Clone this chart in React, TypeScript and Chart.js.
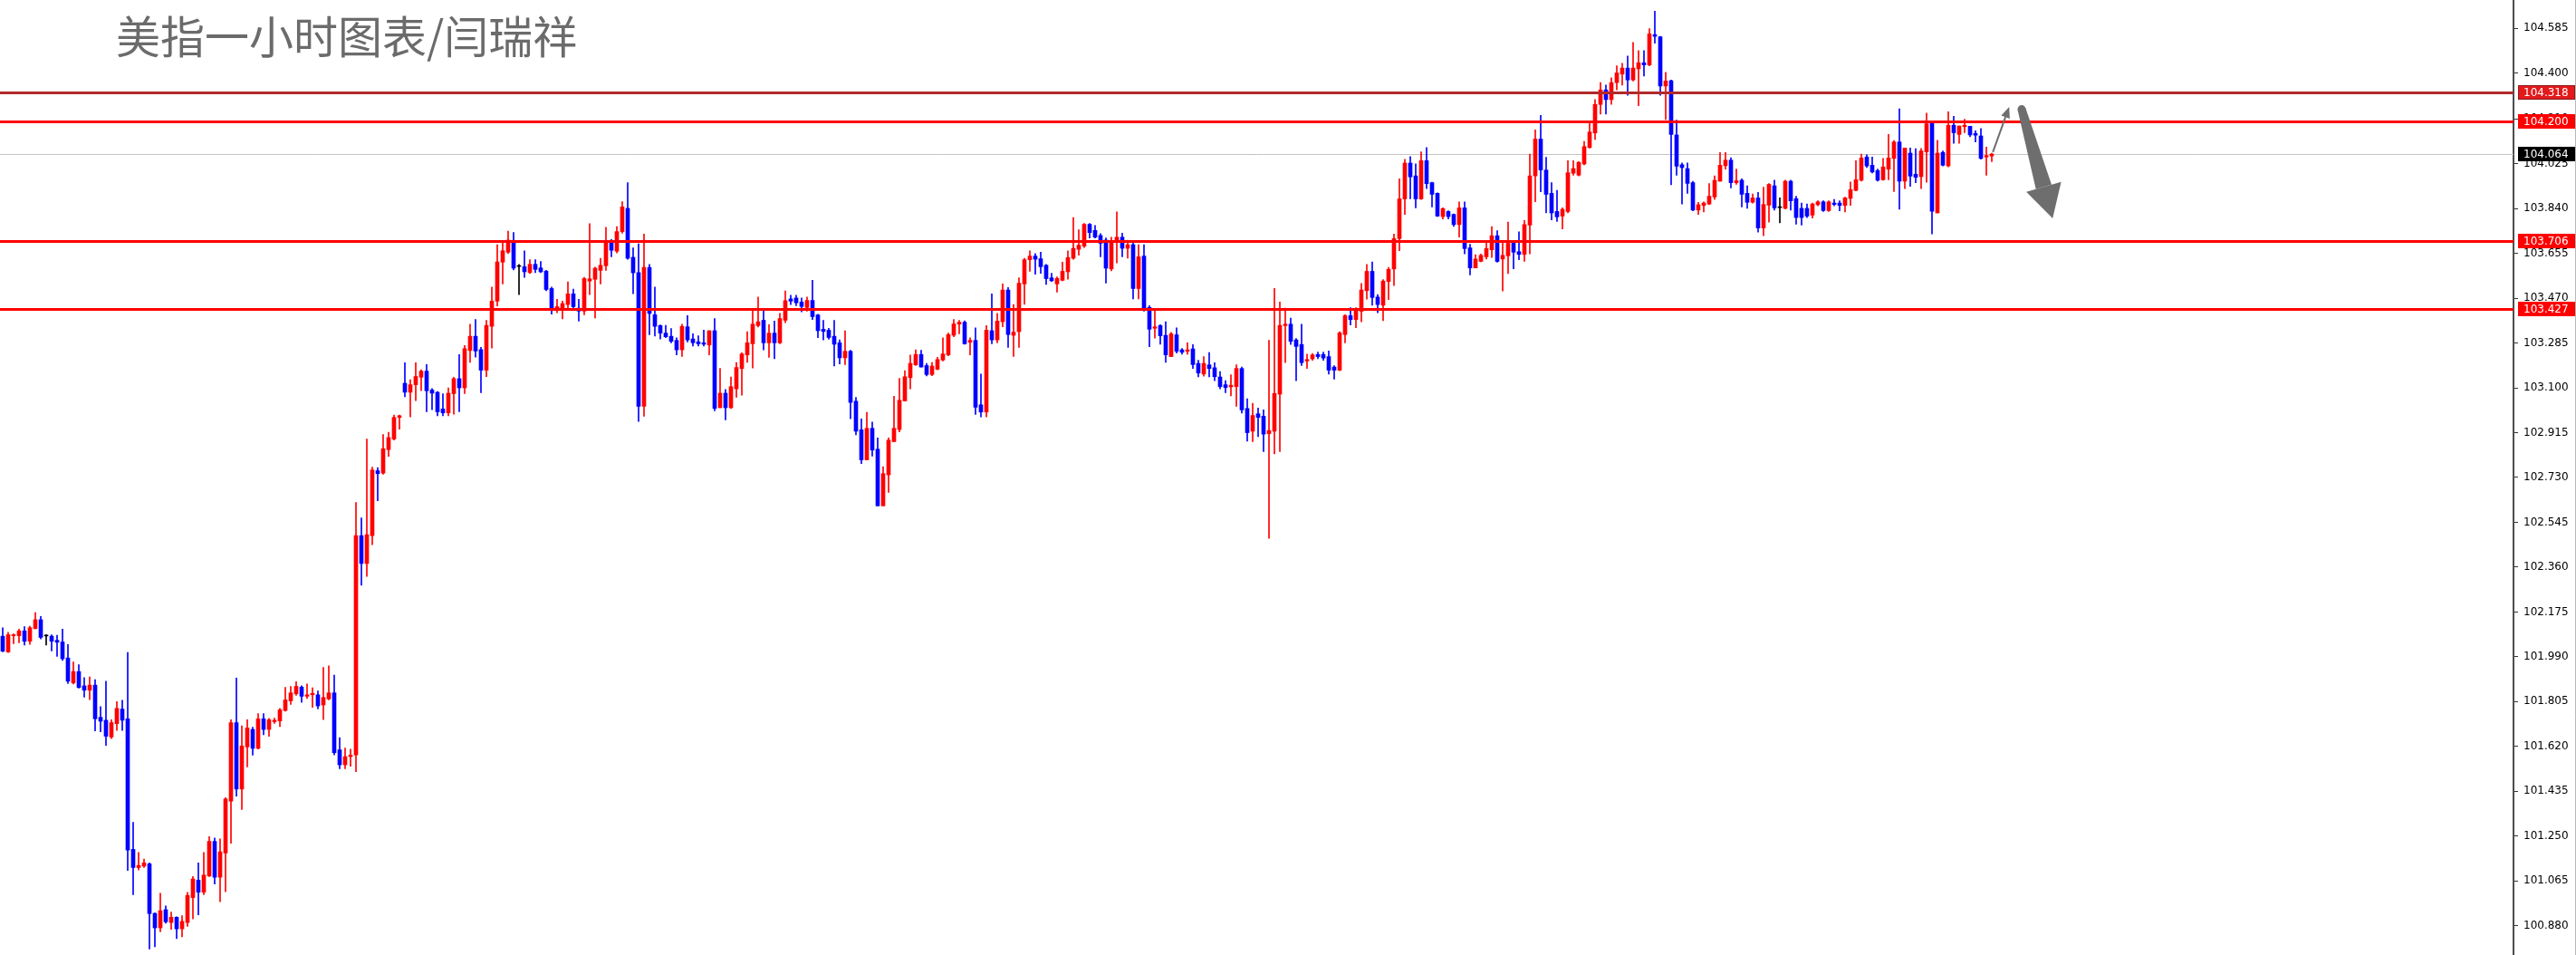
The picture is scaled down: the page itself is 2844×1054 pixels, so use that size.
import React, { useEffect, useRef } from "react";
import { Chart, registerables } from "chart.js";

Chart.register(...registerables);

const titleText = "美指一小时图表/闫瑞祥";

const opens = [
  102.075,102.010,102.077,102.077,102.097,102.054,102.106,102.143,102.076,102.075,
  102.058,102.051,101.985,101.882,101.929,101.870,101.852,101.873,101.740,101.728,
  101.659,101.714,101.774,101.734,101.195,101.120,101.126,101.135,100.931,100.871,
  100.946,100.893,100.915,100.867,100.893,100.996,101.068,101.018,101.085,101.228,
  101.080,101.180,101.394,101.718,101.444,101.618,101.690,101.612,101.734,101.690,
  101.722,101.725,101.768,101.808,101.837,101.865,101.827,101.833,101.833,101.791,
  101.816,101.841,101.606,101.544,101.578,101.585,102.490,102.375,102.490,102.758,
  102.748,102.845,102.889,102.978,103.119,103.082,103.113,103.144,103.169,103.091,
  103.082,103.013,102.997,103.076,103.138,103.100,103.254,103.313,103.258,103.173,
  103.354,103.458,103.619,103.660,103.707,103.601,103.600,103.576,103.610,103.595,
  103.582,103.510,103.423,103.423,103.444,103.488,103.429,103.417,103.541,103.548,
  103.585,103.604,103.701,103.664,103.745,103.841,103.639,103.576,103.024,103.597,
  103.402,103.357,103.326,103.313,103.296,103.257,103.352,103.302,103.290,103.286,
  103.277,103.336,103.018,103.078,103.018,103.096,103.180,103.236,103.282,103.357,
  103.379,103.286,103.326,103.286,103.379,103.467,103.471,103.454,103.432,103.461,
  103.401,103.342,103.338,103.313,103.286,103.224,103.251,103.045,102.927,102.803,
  102.933,102.847,102.613,102.741,102.878,102.928,103.046,103.142,103.195,103.238,
  103.192,103.155,103.177,103.215,103.236,103.317,103.363,103.371,103.288,103.296,
  103.030,103.000,103.336,103.298,103.373,103.504,103.317,103.332,103.529,103.629,
  103.644,103.633,103.606,103.554,103.529,103.544,103.579,103.635,103.672,103.685,
  103.775,103.750,103.729,103.710,103.591,103.704,103.722,103.676,103.691,103.510,
  103.644,103.432,103.346,103.357,103.317,103.229,103.319,103.257,103.251,103.261,
  103.201,103.157,103.195,103.183,103.145,103.113,103.104,103.105,103.180,103.015,
  102.921,102.993,102.983,102.911,102.921,103.074,103.357,103.363,103.298,103.279,
  103.211,103.220,103.238,103.238,103.229,103.186,103.173,103.320,103.398,103.382,
  103.416,103.501,103.581,103.475,103.441,103.539,103.591,103.716,103.880,104.028,
  103.975,103.880,104.038,103.947,103.903,103.807,103.828,103.816,103.774,103.843,
  103.678,103.595,103.622,103.641,103.670,103.728,103.632,103.645,103.697,103.662,
  103.651,103.772,103.975,104.127,103.999,103.903,103.828,103.809,103.828,103.986,
  103.978,104.024,104.092,104.152,104.270,104.330,104.290,104.360,104.395,104.420,
  104.371,104.417,104.442,104.433,104.558,104.549,104.346,104.368,104.144,104.021,
  104.005,103.947,103.834,103.853,103.859,103.888,103.953,104.017,104.040,103.947,
  103.957,103.903,103.866,103.884,103.760,103.854,103.934,103.844,103.841,103.953,
  103.881,103.841,103.841,103.813,103.856,103.868,103.832,103.863,103.863,103.853,
  103.882,103.915,103.957,104.053,104.019,103.997,103.959,104.003,104.047,104.115,
  103.953,104.069,103.982,103.972,104.074,104.196,103.822,104.072,104.016,104.184,
  104.146,104.178,104.180,104.150,104.140,104.053,104.057,
];

const highs = [
  102.110,102.091,102.085,102.104,102.114,102.116,102.172,102.157,102.081,102.081,
  102.079,102.104,102.041,101.969,101.957,101.904,101.907,101.896,101.784,101.889,
  101.730,101.805,101.811,102.008,101.307,101.182,101.155,101.139,100.933,101.014,
  100.962,100.936,100.917,100.921,101.018,101.083,101.139,101.182,101.248,101.242,
  101.238,101.409,101.730,101.902,101.705,101.730,101.699,101.755,101.755,101.736,
  101.737,101.777,101.864,101.868,101.887,101.870,101.878,101.862,101.849,101.946,
  101.953,101.914,101.656,101.613,101.609,102.627,102.563,102.889,102.773,102.771,
  102.907,102.917,102.988,102.988,103.204,103.134,103.204,103.175,103.196,103.097,
  103.085,103.076,103.100,103.144,103.237,103.275,103.363,103.382,103.267,103.379,
  103.516,103.691,103.701,103.747,103.741,103.610,103.666,103.629,103.629,103.622,
  103.585,103.516,103.466,103.458,103.538,103.508,103.466,103.556,103.778,103.598,
  103.635,103.763,103.712,103.766,103.869,103.947,103.678,103.695,103.735,103.610,
  103.516,103.360,103.358,103.345,103.307,103.363,103.398,103.323,103.315,103.338,
  103.336,103.386,103.180,103.093,103.145,103.205,103.245,103.332,103.426,103.475,
  103.427,103.361,103.376,103.408,103.500,103.482,103.482,103.471,103.475,103.544,
  103.404,103.379,103.346,103.379,103.298,103.336,103.255,103.061,102.972,102.999,
  102.959,102.893,102.775,102.893,103.065,103.139,103.171,103.236,103.257,103.255,
  103.201,103.205,103.226,103.307,103.326,103.382,103.379,103.377,103.307,103.348,
  103.157,103.357,103.488,103.408,103.529,103.514,103.444,103.554,103.635,103.666,
  103.654,103.660,103.610,103.573,103.558,103.619,103.666,103.803,103.753,103.779,
  103.779,103.770,103.737,103.719,103.722,103.826,103.739,103.710,103.704,103.691,
  103.691,103.439,103.427,103.361,103.373,103.329,103.348,103.263,103.286,103.279,
  103.214,103.229,103.246,103.204,103.167,103.130,103.154,103.195,103.186,103.055,
  103.036,103.017,103.009,103.296,103.510,103.454,103.429,103.388,103.304,103.363,
  103.239,103.242,103.248,103.248,103.252,103.192,103.332,103.402,103.431,103.431,
  103.531,103.610,103.620,103.485,103.547,103.597,103.735,103.963,104.043,104.055,
  104.025,104.074,104.092,103.949,103.905,103.843,103.831,103.818,103.868,103.868,
  103.693,103.650,103.653,103.703,103.766,103.749,103.700,103.784,103.703,103.744,
  103.791,104.065,104.165,104.225,104.052,103.947,103.915,103.843,104.038,104.038,
  104.034,104.117,104.196,104.290,104.360,104.350,104.380,104.430,104.440,104.470,
  104.526,104.492,104.492,104.583,104.655,104.551,104.402,104.371,104.205,104.028,
  104.028,103.953,103.866,103.868,103.943,103.975,104.071,104.071,104.050,104.003,
  103.963,103.934,103.900,103.907,103.928,103.943,103.957,103.884,103.957,103.957,
  103.891,103.863,103.859,103.863,103.872,103.872,103.872,103.878,103.872,103.887,
  103.950,104.038,104.065,104.062,104.053,104.003,104.047,104.146,104.121,104.252,
  104.090,104.090,104.087,104.088,104.234,104.199,104.122,104.078,104.240,104.221,
  104.181,104.209,104.180,104.161,104.171,104.094,104.069,
];

const lows = [
  102.010,102.008,102.044,102.048,102.038,102.041,102.106,102.064,102.038,102.014,
  101.992,101.975,101.879,101.878,101.861,101.823,101.813,101.684,101.680,101.624,
  101.652,101.686,101.686,101.108,101.008,101.110,101.120,100.784,100.793,100.855,
  100.890,100.865,100.827,100.834,100.877,100.908,100.925,101.008,101.083,101.052,
  100.979,101.020,101.220,101.415,101.360,101.535,101.584,101.609,101.668,101.662,
  101.715,101.702,101.765,101.793,101.831,101.802,101.818,101.781,101.775,101.731,
  101.812,101.585,101.528,101.528,101.538,101.516,102.285,102.322,102.453,102.634,
  102.743,102.817,102.885,102.929,103.063,102.980,103.047,103.088,103.001,103.010,
  102.985,102.985,102.985,102.991,103.001,103.076,103.205,103.227,103.080,103.146,
  103.264,103.438,103.529,103.654,103.587,103.485,103.556,103.572,103.576,103.576,
  103.501,103.404,103.410,103.385,103.423,103.419,103.375,103.402,103.485,103.389,
  103.529,103.585,103.641,103.657,103.738,103.631,103.489,102.961,102.983,103.319,
  103.314,103.302,103.307,103.286,103.236,103.230,103.289,103.273,103.273,103.273,
  103.236,103.005,103.018,102.968,103.015,103.061,103.070,103.205,103.182,103.351,
  103.257,103.226,103.220,103.282,103.369,103.444,103.439,103.414,103.417,103.382,
  103.307,103.298,103.301,103.190,103.199,103.196,102.972,102.906,102.787,102.803,
  102.818,102.613,102.613,102.669,102.878,102.918,103.045,103.096,103.192,103.186,
  103.149,103.150,103.174,103.211,103.232,103.311,103.323,103.280,103.236,102.990,
  102.980,102.980,103.282,103.286,103.352,103.267,103.230,103.267,103.445,103.581,
  103.569,103.573,103.527,103.539,103.495,103.542,103.548,103.631,103.648,103.679,
  103.719,103.719,103.641,103.533,103.583,103.616,103.641,103.635,103.467,103.467,
  103.417,103.270,103.305,103.280,103.205,103.229,103.244,103.239,103.239,103.180,
  103.145,103.148,103.145,103.130,103.096,103.080,103.067,103.024,102.996,102.880,
  102.878,102.899,102.837,102.479,102.828,102.837,103.204,103.279,103.130,103.192,
  103.180,103.214,103.220,103.214,103.157,103.136,103.171,103.286,103.360,103.348,
  103.373,103.466,103.441,103.410,103.377,103.464,103.522,103.666,103.816,103.880,
  103.843,103.878,103.922,103.847,103.807,103.797,103.797,103.766,103.722,103.653,
  103.566,103.595,103.620,103.632,103.638,103.619,103.500,103.572,103.591,103.629,
  103.622,103.653,103.868,103.909,103.822,103.793,103.787,103.756,103.822,103.978,
  103.975,104.021,104.090,104.125,104.230,104.230,104.270,104.330,104.350,104.308,
  104.367,104.265,104.387,104.429,104.523,104.308,104.208,103.938,103.978,103.859,
  103.903,103.831,103.816,103.826,103.856,103.878,103.953,104.003,103.925,103.940,
  103.847,103.841,103.863,103.743,103.728,103.784,103.834,103.781,103.838,103.834,
  103.776,103.772,103.803,103.801,103.851,103.828,103.828,103.851,103.831,103.826,
  103.853,103.913,103.953,104.009,103.987,103.953,103.957,103.959,103.910,103.837,
  103.922,103.932,103.947,103.922,103.949,103.735,103.822,104.016,104.012,104.109,
  104.109,104.153,104.137,104.115,104.044,103.978,104.034,
];

const closes = [
  102.013,102.081,102.081,102.097,102.054,102.110,102.143,102.070,102.076,102.054,
  102.050,101.982,101.889,101.929,101.863,101.852,101.873,101.734,101.724,101.662,
  101.718,101.777,101.728,101.192,101.120,101.129,101.139,100.930,100.871,100.942,
  100.896,100.915,100.867,100.898,101.005,101.073,101.018,101.089,101.228,101.080,
  101.185,101.403,101.718,101.444,101.622,101.696,101.612,101.734,101.690,101.730,
  101.728,101.771,101.812,101.841,101.868,101.827,101.833,101.839,101.787,101.822,
  101.841,101.594,101.544,101.578,101.584,102.490,102.375,102.494,102.761,102.746,
  102.849,102.895,102.978,102.985,103.082,103.113,103.147,103.169,103.088,103.078,
  103.001,102.997,103.078,103.138,103.100,103.262,103.313,103.252,103.173,103.358,
  103.458,103.620,103.666,103.710,103.594,103.601,103.579,103.610,103.589,103.579,
  103.506,103.423,103.435,103.448,103.488,103.435,103.417,103.551,103.550,103.594,
  103.606,103.701,103.668,103.745,103.847,103.635,103.575,103.024,103.597,103.407,
  103.354,103.326,103.311,103.292,103.257,103.354,103.298,103.286,103.282,103.280,
  103.336,103.015,103.078,103.018,103.105,103.184,103.240,103.286,103.363,103.373,
  103.286,103.326,103.286,103.386,103.460,103.458,103.451,103.436,103.461,103.394,
  103.336,103.333,103.308,103.280,103.224,103.251,103.040,102.921,102.803,102.933,
  102.843,102.613,102.746,102.884,102.933,103.049,103.146,103.201,103.238,103.186,
  103.155,103.190,103.217,103.240,103.320,103.364,103.371,103.282,103.296,103.020,
  103.000,103.338,103.298,103.376,103.504,103.320,103.330,103.532,103.629,103.644,
  103.631,103.600,103.551,103.542,103.552,103.581,103.638,103.676,103.689,103.775,
  103.741,103.722,103.697,103.594,103.707,103.722,103.676,103.691,103.510,103.641,
  103.423,103.342,103.352,103.315,103.236,103.323,103.251,103.247,103.257,103.196,
  103.161,103.201,103.180,103.146,103.105,103.101,103.111,103.180,103.009,102.915,
  102.986,102.978,102.909,102.924,103.077,103.358,103.363,103.292,103.271,103.204,
  103.217,103.236,103.229,103.223,103.173,103.173,103.327,103.398,103.382,103.423,
  103.504,103.581,103.473,103.444,103.541,103.589,103.716,103.880,104.028,103.971,
  103.880,104.038,103.943,103.899,103.809,103.840,103.807,103.774,103.843,103.675,
  103.595,103.632,103.647,103.675,103.728,103.622,103.647,103.697,103.660,103.651,
  103.774,103.975,104.127,103.999,103.899,103.822,103.806,103.837,103.988,104.005,
  104.031,104.096,104.156,104.270,104.330,104.290,104.360,104.400,104.420,104.371,
  104.420,104.442,104.433,104.561,104.551,104.346,104.367,104.146,104.015,104.009,
  103.944,103.834,103.856,103.863,103.891,103.957,104.019,104.040,103.947,103.955,
  103.899,103.866,103.884,103.760,103.857,103.940,103.843,103.844,103.953,103.872,
  103.803,103.803,103.809,103.859,103.868,103.832,103.868,103.857,103.853,103.884,
  103.918,103.959,104.049,104.016,103.991,103.957,104.012,104.049,104.115,103.953,
  104.090,103.974,103.969,104.078,104.190,103.829,104.069,104.019,104.184,104.153,
  104.181,104.184,104.144,104.143,104.047,104.059,104.065,
];

// horizontal levels (price)
const levelPrices = [104.318, 104.2, 103.706, 103.427];
const bidPrice = 104.064;

// right axis tick labels
const yTickValues = [
  104.585, 104.4, 104.21, 104.025, 103.84, 103.655, 103.47, 103.285, 103.1,
  102.915, 102.73, 102.545, 102.36, 102.175, 101.99, 101.805, 101.62, 101.435,
  101.25, 101.065, 100.88,
];

// annotation arrows, as [bar index, price]
const smallArrowFrom = [366.2, 104.073];
const smallArrowTo = [369.2, 104.26];
const bigArrowFrom = [371.5, 104.25];
const bigArrowTo = [377.2, 103.8];

const W = 2844;
const H = 1054;
const UP = "#ff0000";
const DOWN = "#0000ff";
const DOJI = "#000000";

function candleColor(i: number) {
  if (closes[i] > opens[i]) return UP;
  if (closes[i] < opens[i]) return DOWN;
  return DOJI;
}

const overlayPlugin = {
  id: "overlay",
  beforeDraw(chart: any) {
    const ctx = chart.ctx;
    ctx.save();
    ctx.fillStyle = "#ffffff";
    ctx.fillRect(0, 0, chart.width, chart.height);
    ctx.restore();
  },
  beforeDatasetsDraw(chart: any) {
    const { ctx, chartArea, scales } = chart;
    const py = Math.round(scales.y.getPixelForValue(bidPrice)) + 0.5;
    ctx.save();
    ctx.strokeStyle = "#c4c4c4";
    ctx.lineWidth = 1;
    ctx.beginPath();
    ctx.moveTo(chartArea.left, py);
    ctx.lineTo(chartArea.right, py);
    ctx.stroke();
    ctx.restore();
  },
  afterDatasetsDraw(chart: any) {
    const { ctx, chartArea, scales } = chart;
    const xs = scales.x;
    const ys = scales.y;
    ctx.save();
    levelPrices.forEach((v, i) => {
      const py = Math.round(ys.getPixelForValue(v)) + 0.5;
      ctx.strokeStyle = i === 0 ? "#b02a2a" : "#ff0000";
      ctx.lineWidth = 3;
      ctx.beginPath();
      ctx.moveTo(chartArea.left, py);
      ctx.lineTo(chartArea.right, py);
      ctx.stroke();
    });

    const grey = "#6e6e6e";
    // small arrow
    {
      const x0 = xs.getPixelForValue(smallArrowFrom[0]);
      const y0 = ys.getPixelForValue(smallArrowFrom[1]);
      const x1 = xs.getPixelForValue(smallArrowTo[0]);
      const y1 = ys.getPixelForValue(smallArrowTo[1]);
      const dx = x1 - x0, dy = y1 - y0;
      const len = Math.hypot(dx, dy);
      const ux = dx / len, uy = dy / len;
      const nx = -uy, ny = ux;
      const hl = 12, hw = 5;
      const bx = x1 - ux * hl, by = y1 - uy * hl;
      ctx.strokeStyle = grey;
      ctx.fillStyle = grey;
      ctx.lineWidth = 2;
      ctx.beginPath();
      ctx.moveTo(x0, y0);
      ctx.lineTo(bx, by);
      ctx.stroke();
      ctx.beginPath();
      ctx.moveTo(x1, y1);
      ctx.lineTo(bx + nx * hw, by + ny * hw);
      ctx.lineTo(bx - nx * hw, by - ny * hw);
      ctx.closePath();
      ctx.fill();
    }
    // big arrow
    {
      const x0 = xs.getPixelForValue(bigArrowFrom[0]);
      const y0 = ys.getPixelForValue(bigArrowFrom[1]);
      const x1 = xs.getPixelForValue(bigArrowTo[0]);
      const y1 = ys.getPixelForValue(bigArrowTo[1]);
      const dx = x1 - x0, dy = y1 - y0;
      const len = Math.hypot(dx, dy);
      const ux = dx / len, uy = dy / len;
      const nx = -uy, ny = ux;
      const hl = 36, hw = 20, w0 = 4.5, w1 = 9;
      const bx = x1 - ux * hl, by = y1 - uy * hl;
      ctx.fillStyle = grey;
      ctx.beginPath();
      ctx.moveTo(x0 + nx * w0, y0 + ny * w0);
      ctx.lineTo(bx + nx * w1, by + ny * w1);
      ctx.lineTo(bx - nx * w1, by - ny * w1);
      ctx.lineTo(x0 - nx * w0, y0 - ny * w0);
      ctx.closePath();
      ctx.fill();
      ctx.beginPath();
      ctx.arc(x0, y0, w0, 0, Math.PI * 2);
      ctx.fill();
      ctx.beginPath();
      ctx.moveTo(x1, y1);
      ctx.lineTo(bx + nx * hw, by + ny * hw);
      ctx.lineTo(bx - nx * hw, by - ny * hw);
      ctx.closePath();
      ctx.fill();
    }
    ctx.restore();
  },
  afterDraw(chart: any) {
    const { ctx, chartArea, scales } = chart;
    const ys = scales.y;
    const bx = chartArea.right + 5;
    const bw = chart.width - 1 - bx;
    ctx.save();
    ctx.font = '12px "DejaVu Sans"';
    ctx.textBaseline = "middle";
    ctx.textAlign = "left";
    const boxes = levelPrices.map((v, i) => ({
      v,
      fill: i === 0 ? "#e3191c" : "#ff0000",
      stroke: i === 0 ? "#8b1a1a" : "#ff0000",
    }));
    boxes.push({ v: bidPrice, fill: "#000000", stroke: "#000000" });
    boxes.forEach((b) => {
      const py = Math.round(ys.getPixelForValue(b.v));
      ctx.fillStyle = b.fill;
      ctx.fillRect(bx, py - 8, bw, 16);
      ctx.strokeStyle = b.stroke;
      ctx.lineWidth = 1;
      ctx.strokeRect(bx + 0.5, py - 7.5, bw - 1, 15);
      ctx.fillStyle = "#ffffff";
      ctx.fillText(b.v.toFixed(3), chartArea.right + 11, py + 1);
    });
    ctx.strokeStyle = "#b8b8b8";
    ctx.lineWidth = 1;
    ctx.beginPath();
    ctx.moveTo(chart.width - 0.5, 0);
    ctx.lineTo(chart.width - 0.5, chart.height);
    ctx.stroke();
    ctx.restore();
  },
};

export default function App() {
  const canvasRef = useRef<HTMLCanvasElement | null>(null);

  useEffect(() => {
    if (!canvasRef.current) return;
    const colors = opens.map((_, i) => candleColor(i));
    const chart = new Chart(canvasRef.current, {
      type: "bar",
      data: {
        datasets: [
          {
            label: "body",
            data: opens.map((o, i) => ({ x: i, y: [o, closes[i]] })) as any,
            backgroundColor: colors,
            borderWidth: 0,
            barThickness: 4,
            minBarLength: 1,
            grouped: false,
            order: 0,
          } as any,
          {
            label: "wick",
            data: opens.map((_, i) => ({ x: i, y: [lows[i], highs[i]] })) as any,
            backgroundColor: colors,
            borderWidth: 0,
            barThickness: 1,
            grouped: false,
            order: 1,
          } as any,
        ],
      },
      options: {
        animation: false,
        responsive: false,
        devicePixelRatio: 1,
        layout: { padding: 0 },
        plugins: {
          legend: { display: false },
          tooltip: { enabled: false },
          title: { display: false },
        },
        scales: {
          x: {
            type: "linear",
            min: -0.5,
            max: 462,
            display: false,
            offset: false,
          },
          y: {
            type: "linear",
            position: "right",
            min: 100.759,
            max: 104.701,
            afterBuildTicks: (s: any) => {
              s.ticks = yTickValues.map((v) => ({ value: v }));
            },
            afterFit: (s: any) => {
              s.width = 69;
              s.paddingTop = 0;
              s.paddingBottom = 0;
            },
            ticks: {
              autoSkip: false,
              padding: 6,
              color: "#000000",
              font: { family: "DejaVu Sans", size: 12 },
              callback: (v: any) => Number(v).toFixed(3),
            },
            grid: {
              display: true,
              drawOnChartArea: false,
              drawTicks: true,
              tickLength: 5,
              color: "#333333",
              lineWidth: 1,
            },
            border: { display: true, color: "#4d4d4d", width: 2 },
          } as any,
        },
      } as any,
      plugins: [overlayPlugin],
    });
    return () => chart.destroy();
  }, []);

  return (
    <div
      style={{
        position: "fixed",
        left: 0,
        top: 0,
        width: W,
        height: H,
        background: "#ffffff",
        overflow: "hidden",
      }}
    >
      <canvas ref={canvasRef} width={W} height={H} style={{ display: "block" }} />
      <div
        style={{
          position: "absolute",
          left: 128,
          top: 13,
          fontFamily: '"Noto Sans CJK SC", "Noto Sans", sans-serif',
          fontSize: 49,
          lineHeight: 1,
          color: "#6b6b6b",
          whiteSpace: "nowrap",
        }}
      >
        {titleText}
      </div>
    </div>
  );
}
